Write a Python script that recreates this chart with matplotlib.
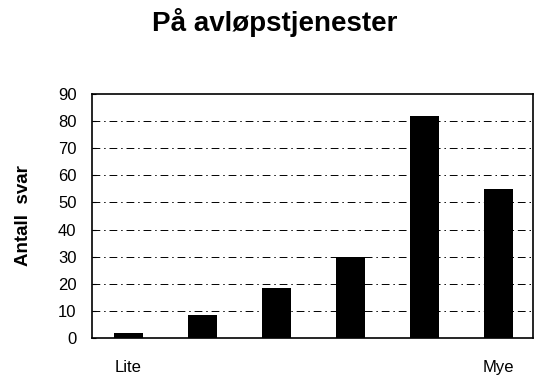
import matplotlib
matplotlib.use('Agg')
import matplotlib.pyplot as plt
import numpy as np

plt.rcParams['font.family'] = ['Liberation Sans', 'DejaVu Sans']

# data
categories = ['Lite', '', '', '', '', 'Mye']
values = [2, 8.5, 18.5, 30, 82, 55]
yticks = [0, 10, 20, 30, 40, 50, 60, 70, 80, 90]

fig = plt.figure(figsize=(5.34, 3.78), dpi=100)
ax = fig.add_axes([0.172, 0.106, 0.826, 0.645])

x = np.arange(len(categories))
ax.bar(x, values, width=0.39, color='black', zorder=3)

# grid lines, dash-dot like the old print
for y in yticks[1:-1]:
    ax.axhline(y, color='black', lw=0.7, ls=(0, (8, 4, 1.5, 4)), zorder=1)

ax.set_xlim(-0.49, 5.47)
ax.set_ylim(0, 90)
ax.set_yticks(yticks)
ax.set_yticklabels([str(v) for v in yticks], fontsize=12)
ax.set_xticks(x)
ax.set_xticklabels(categories, fontsize=12)
ax.tick_params(axis='x', length=0, pad=16)
ax.tick_params(axis='y', length=3, direction='in', pad=11)
for s in ax.spines.values():
    s.set_linewidth(1.2)
    s.set_color('black')

ax.set_ylabel('Antall  svar', fontsize=13.5, fontweight='bold')
ax.yaxis.set_label_coords(-0.135, 0.5)
fig.text(0.515, 0.94, 'På avløpstjenester', fontsize=20, fontweight='bold',
         ha='center', va='center')

fig.savefig('out.png', dpi=100)
